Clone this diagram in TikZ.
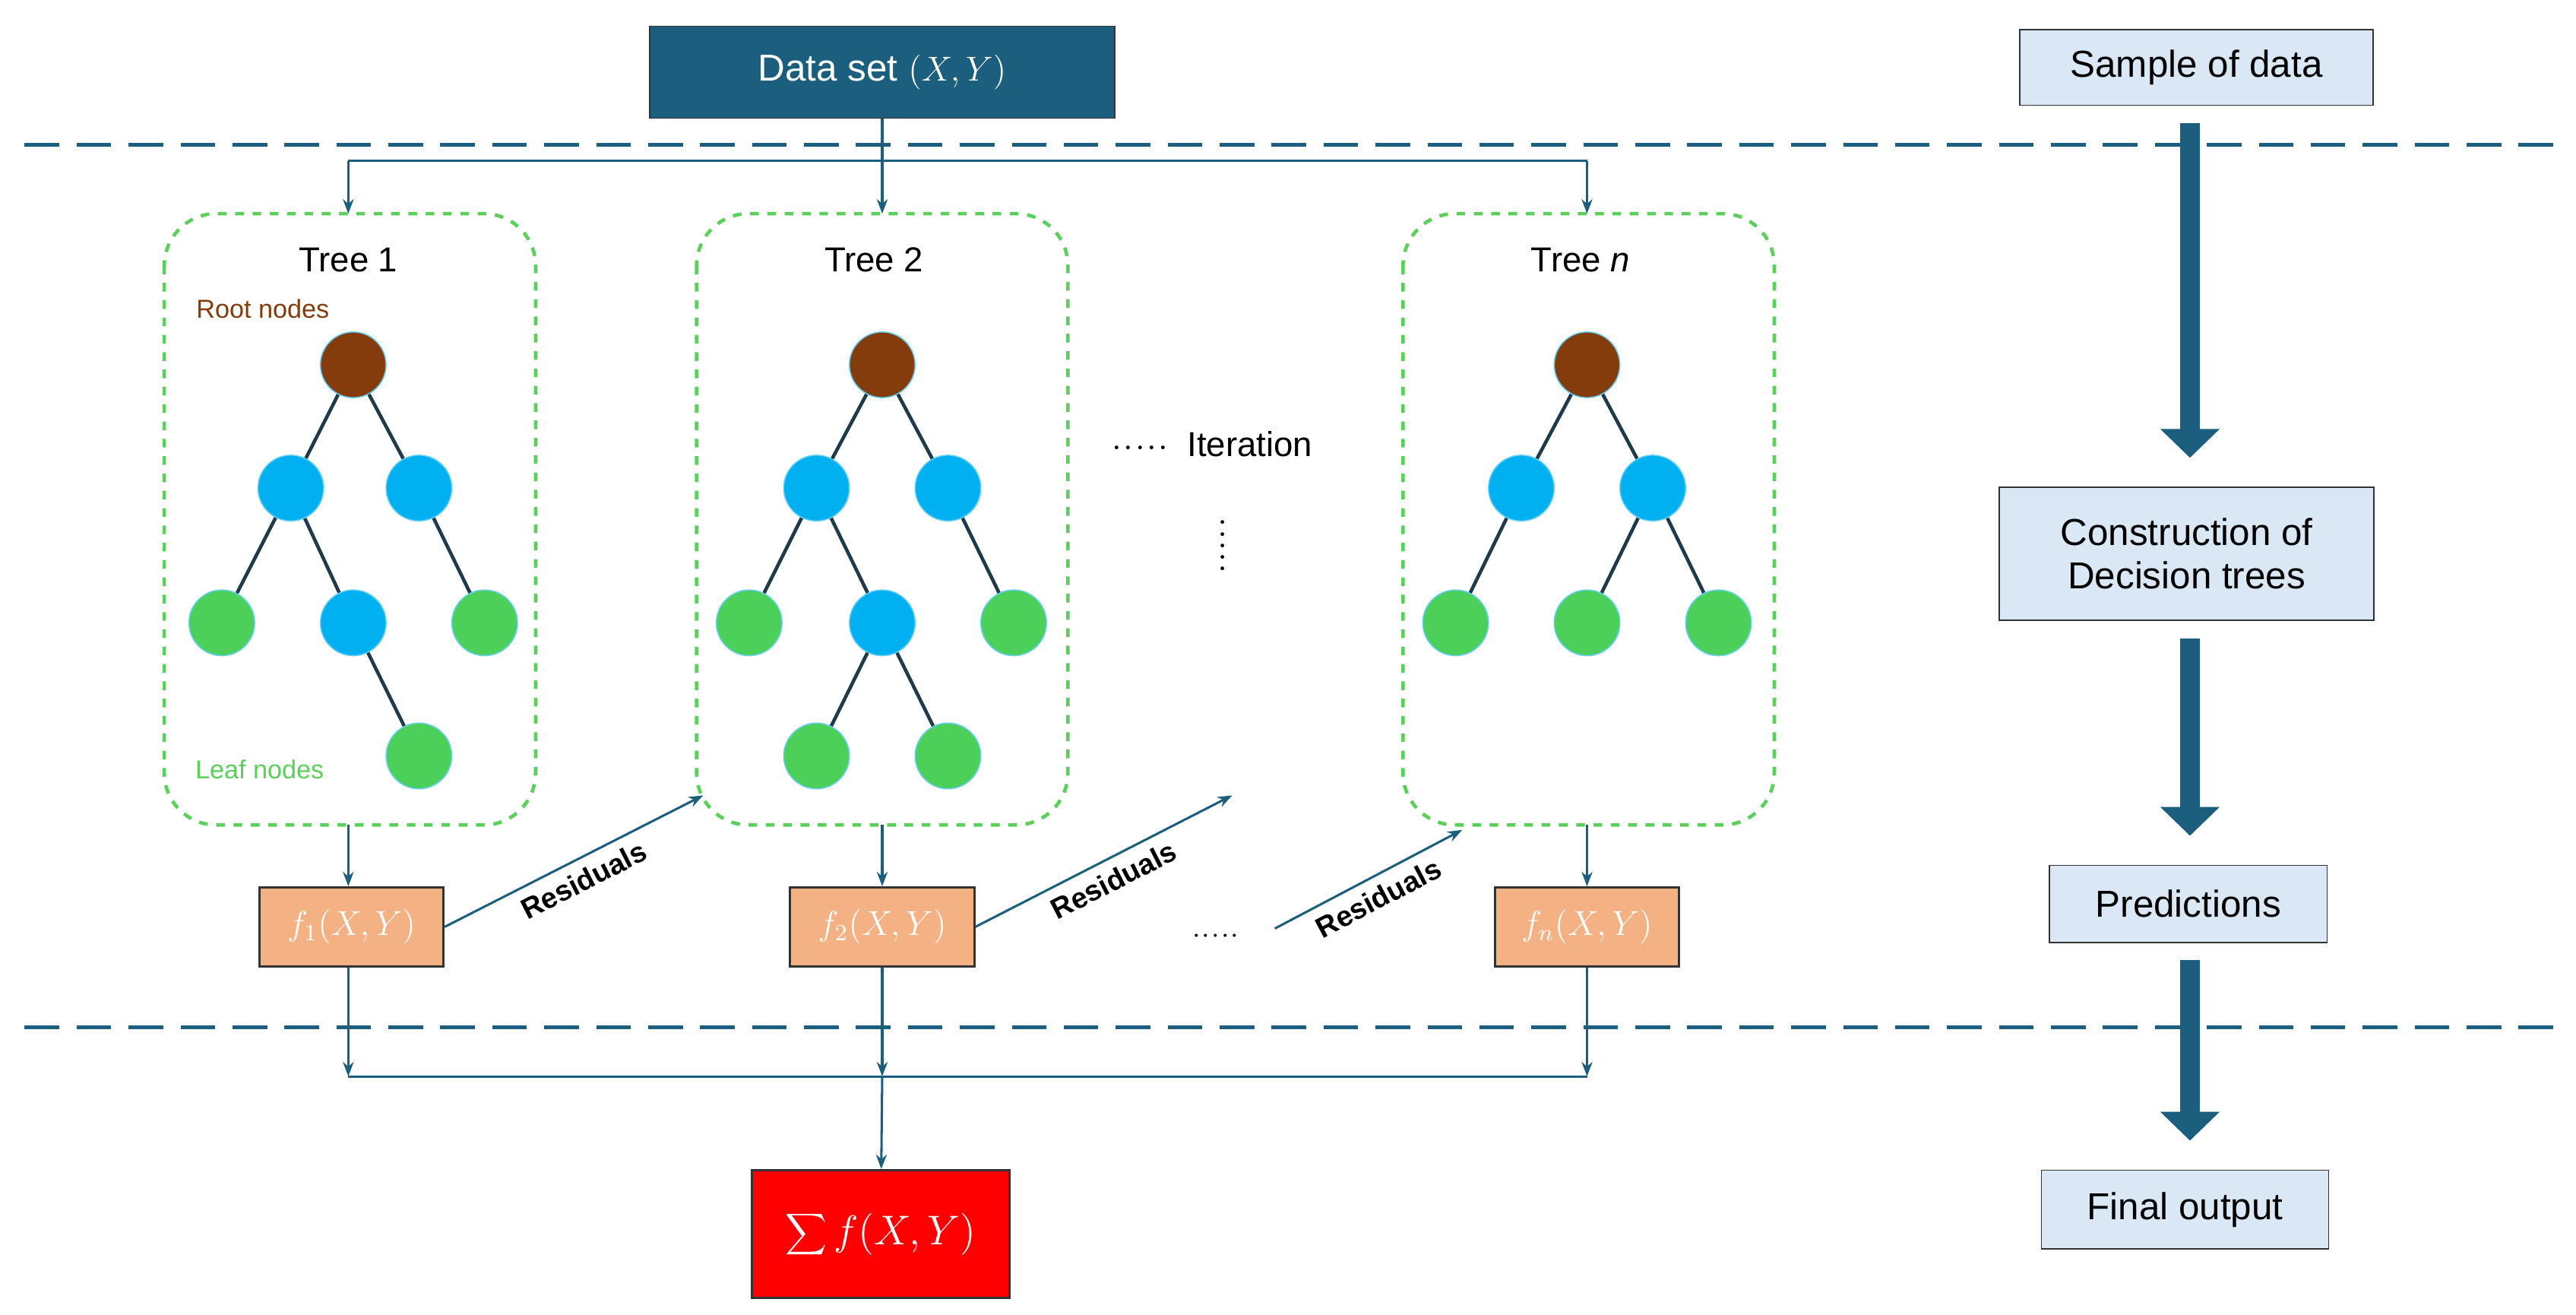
\documentclass[tikz,border=0pt]{standalone}
\usepackage{fontspec}
\setmainfont{Liberation Sans}
\usetikzlibrary{arrows.meta, positioning, fit, shapes}
\definecolor{darkblue}{HTML}{1B5E7E}
\definecolor{nodeblue}{HTML}{00B0F0}
\definecolor{leafgreen}{HTML}{4CD05A}
\definecolor{rootbrown}{HTML}{843C0C}
\definecolor{boxgreen}{HTML}{5AD05A}
\definecolor{salmon}{HTML}{F4B183}
\definecolor{paleblue}{HTML}{DAE8F5}
\definecolor{edgeblue}{HTML}{1F3A4D}
\begin{document}
\begin{tikzpicture}
                    [
                    x=0.02cm, y=-0.02cm,
                    tree/.style={
                        draw=boxgreen,
                        dashed,
                        line width=1.2pt,
                        rounded corners=18pt
                    },
                    inner/.style={
                        circle,
                        draw=nodeblue!60,
                        fill=nodeblue,
                        minimum size=0.8cm,
                        inner sep=0pt
                    },
                    root/.style={inner, fill=rootbrown},
                    leaf/.style={inner, fill=leafgreen},
                    func/.style={
                        rectangle,
                        draw=black!80,
                        thick,
                        fill=salmon,
                        text=white,
                        minimum width=2.24cm,
                        minimum height=0.96cm,
                        font=\fontsize{12}{14}\selectfont
                    },
                    stage/.style={
                        rectangle,
                        draw=black!80,
                        fill=paleblue,
                        align=center,
                        font=\fontsize{13}{15}\selectfont
                    },
                    arrow/.style={
                        -{Stealth[length=5pt]},
                        darkblue,
                        thick
                    },
                    bigarrow/.style={
                        -{Triangle[length=10pt,width=20pt]},
                        darkblue,
                        line width=7pt,
                        shorten <=6pt, shorten >=10pt
                    },
                    resid/.style={sloped, below, text=black, font=\bfseries\fontsize{10}{12}\selectfont},
                    edge/.style={draw=edgeblue, line width=1.2pt}
                    ]
\useasboundingbox (0,0) rectangle (1568,800);

% dashed separators
\draw[darkblue, line width=1.2pt, dash pattern=on 12pt off 6pt] (15,88) -- (1555,88);
\draw[darkblue, line width=1.2pt, dash pattern=on 12pt off 6pt] (15,625) -- (1555,625);

% data set
\node (data) [rectangle, draw=black!80, fill=darkblue, text=white, minimum width=5.66cm, minimum height=1.12cm, font=\fontsize{13}{15}\selectfont] at (537,44) {Data set $(X,Y)$};

% tree boxes
\draw[tree] (100,130) rectangle (326,502);
\draw[tree] (424,130) rectangle (650,502);
\draw[tree] (854,130) rectangle (1080,502);
\node (t1) at (212,158) {\fontsize{12}{14}\selectfont Tree 1};
\node (t2) at (532,158) {\fontsize{12}{14}\selectfont Tree 2};
\node (tn) at (962,158) {\fontsize{12}{14}\selectfont Tree \textit{n}};
\node (rootlbl) [text=rootbrown, font=\fontsize{9}{11}\selectfont] at (160,188) {Root nodes};
\node (leaflbl) [text=boxgreen, font=\fontsize{9}{11}\selectfont] at (158,468) {Leaf nodes};

% tree 1
\node (a0) [root] at (215,222) {};
\node (a1) [inner] at (177,297) {};
\node (a2) [inner] at (255,297) {};
\node (a3) [leaf] at (135,379) {};
\node (a4) [inner] at (215,379) {};
\node (a5) [leaf] at (295,379) {};
\node (a6) [leaf] at (255,460) {};
\draw[edge] (a0) -- (a1); \draw[edge] (a0) -- (a2);
\draw[edge] (a1) -- (a3); \draw[edge] (a1) -- (a4);
\draw[edge] (a2) -- (a5); \draw[edge] (a4) -- (a6);

% tree 2
\node (b0) [root] at (537,222) {};
\node (b1) [inner] at (497,297) {};
\node (b2) [inner] at (577,297) {};
\node (b3) [leaf] at (456,379) {};
\node (b4) [inner] at (537,379) {};
\node (b5) [leaf] at (617,379) {};
\node (b6) [leaf] at (497,460) {};
\node (b7) [leaf] at (577,460) {};
\draw[edge] (b0) -- (b1); \draw[edge] (b0) -- (b2);
\draw[edge] (b1) -- (b3); \draw[edge] (b1) -- (b4);
\draw[edge] (b2) -- (b5); \draw[edge] (b4) -- (b6);
\draw[edge] (b4) -- (b7);

% tree n
\node (c0) [root] at (966,222) {};
\node (c1) [inner] at (926,297) {};
\node (c2) [inner] at (1006,297) {};
\node (c3) [leaf] at (886,379) {};
\node (c4) [leaf] at (966,379) {};
\node (c5) [leaf] at (1046,379) {};
\draw[edge] (c0) -- (c1); \draw[edge] (c0) -- (c2);
\draw[edge] (c1) -- (c3); \draw[edge] (c2) -- (c4);
\draw[edge] (c2) -- (c5);

% iteration
\node (iter) [font=\fontsize{12}{14}\selectfont] at (738,270) {$\cdot\!\cdot\!\cdot\!\cdot\!\cdot$\ \ Iteration};
\node (vdots) [rotate=90, font=\fontsize{12}{14}\selectfont] at (745,332) {$\cdot\!\cdot\!\cdot\!\cdot\!\cdot$};

% distribution
\coordinate (split) at (537,98);
\coordinate (s1) at (212,98);
\coordinate (sn) at (966,98);
\coordinate (top1) at (212,130);
\coordinate (top2) at (537,130);
\coordinate (topn) at (966,130);
\draw[darkblue, thick] (s1) -- (sn);
\draw[arrow] (data) -- (top2);
\draw[arrow] (s1) -- (top1);
\draw[arrow] (sn) -- (topn);

% functions
\node (f1) [func] at (214,564) {$f_1(X,Y)$};
\node (f2) [func] at (537,564) {$f_2(X,Y)$};
\node (fn) [func] at (966,564) {$f_n(X,Y)$};
\coordinate (bot1) at (212,502);
\coordinate (bot2) at (537,502);
\coordinate (botn) at (966,502);
\draw[arrow] (bot1) -- (f1.north -| bot1);
\draw[arrow] (bot2) -- (f2);
\draw[arrow] (botn) -- (fn);

% residuals
\coordinate (r1) at (428,484);
\coordinate (r2) at (750,484);
\coordinate (r3s) at (776,565);
\coordinate (r3) at (890,505);
\draw[arrow] (f1.east) -- node[resid] {Residuals} (r1);
\draw[arrow] (f2.east) -- node[resid] {Residuals} (r2);
\draw[arrow] (r3s) -- node[resid] {Residuals} (r3);
\node (dots) at (740,570) {$\cdot\!\cdot\!\cdot\!\cdot\!\cdot$};

% aggregation
\coordinate (m1) at (212,655);
\coordinate (m2) at (537,655);
\coordinate (mn) at (966,655);
\draw[darkblue, thick] (m1) -- (mn);
\draw[arrow] (f1.south -| m1) -- (m1);
\draw[arrow] (f2) -- (m2);
\draw[arrow] (fn.south -| mn) -- (mn);
\node (sum) [rectangle, draw=black!80, thick, fill=red, text=white, minimum width=3.14cm, minimum height=1.56cm, font=\fontsize{14}{16}\selectfont] at (536,751) {$\displaystyle\sum f(X,Y)$};
\draw[arrow] (m2) -- (sum);

% process steps
\node (sample) [stage, minimum width=4.3cm, minimum height=0.92cm] at (1337,41) {Sample of data};
\node (build) [stage, minimum width=4.56cm, minimum height=1.62cm] at (1331,337) {Construction of\\Decision trees};
\node (pred) [stage, minimum width=3.38cm, minimum height=0.94cm] at (1332,550) {Predictions};
\node (final) [stage, minimum width=3.5cm, minimum height=0.96cm] at (1330,736) {Final output};
\draw[bigarrow] (sample.south -| 1333,0) -- (build.north -| 1333,0);
\draw[bigarrow] (build.south -| 1333,0) -- (pred.north -| 1333,0);
\draw[bigarrow] (pred.south -| 1333,0) -- (final.north -| 1333,0);

\end{tikzpicture}
\end{document}
